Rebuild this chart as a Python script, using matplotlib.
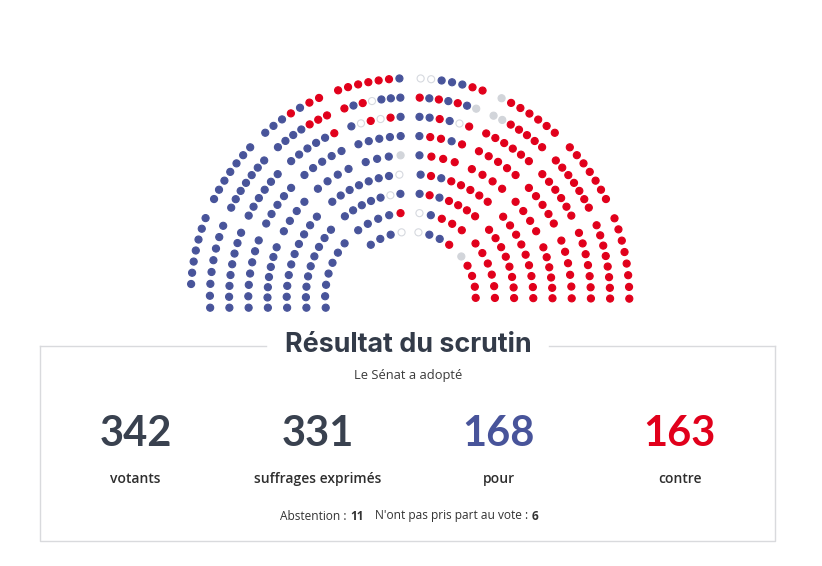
import numpy as np
import matplotlib
matplotlib.use("Agg")
import matplotlib.pyplot as plt

# seat map of the vote, row by row (outer row first), blocks separated by "|"
# p = pour, c = contre, a = abstention, n = n'a pas pris part au vote
ROWS = [
    "ppppppp|ppppppp|pppcpcc|ccccccp|aapppcc|ncccccc|ccccccc|cccccccc",
    "pppppppp|ppppppp|ppppccc|cpcappp|cpcpcpn|nnccccc|ccccccc|cccccccc",
    "pppppppp|pppppp|pppppc|pacacp|ppcpac|cccccc|cccccc|ccccccc",
    "ppppppp|ppppp|ppppp|ppppp|pccpc|ccccc|ccccc|cccccc",
    "ppppppp|pppp|pppp|pppn|pccc|cccc|cccc|cccccc",
    "pppppppppp|pppppppa|pcpccccc|ccccccccc",
    "ppppppppp|pppppap|pcpcccc|cccccccc",
    "ppppppp|ppppc|apccc|cccccc",
    "|pppa|appc|ncccc",
]
VOTE_CODES = ["p", "c", "a", "n"]
COLUMN_LABELS = ["votants", "suffrages exprimés", "pour", "contre"]
TITLE = "Résultat du scrutin"
SUBTITLE = "Le Sénat a adopté"

counts = {k: sum(r.count(k) for r in ROWS) for k in VOTE_CODES}
n_seats = sum(counts.values())
votants = n_seats - counts["n"]
exprimes = counts["p"] + counts["c"]
column_values = [votants, exprimes, counts["p"], counts["c"]]

BLUE = "#48549a"
RED = "#e1001b"
GREY = "#d2d5da"
DARK = "#39414f"
FACE = {"p": BLUE, "c": RED, "a": "white", "n": GREY}
EDGE = {"p": BLUE, "c": RED, "a": "#d6d9df", "n": GREY}

# hemicycle geometry (pixels)
CX, CY = 410.0, 297.5
R_OUT, R_STEP = 219.3, 19.2
OUTER_EDGES = [(None, 22.7), (25.3, 44.6), (47.3, 66.9), (69.5, 88.6),
               (91.4, 110.7), (113.3, 132.7), (135.4, 154.7), (157.3, None)]
INNER_EDGES = [(None, 43.5), (48.5, 87.5), (92.5, 131.5), (136.5, None)]
LEFT_FOOT = [-13.5] + [10.2] * 8   # y offset of lowest left seat
RIGHT_END = 180.3


def seat_angles(lo, hi, n, r, foot):
    if n == 0:
        return []
    if lo is None:
        first = np.degrees(np.arcsin(-foot / r))
        step = (hi - first) / (n - 0.5)
        return [first + step * i for i in range(n)]
    if hi is None:
        step = (RIGHT_END - lo) / (n - 0.5)
        return [lo + step * (i + 0.5) for i in range(n)]
    step = (hi - lo) / n
    return [lo + step * (i + 0.5) for i in range(n)]


xs, ys, codes = [], [], []
for k, row in enumerate(ROWS):
    r = R_OUT - R_STEP * k
    blocks = row.split("|")
    edges = OUTER_EDGES if len(blocks) == 8 else INNER_EDGES
    for (lo, hi), block in zip(edges, blocks):
        for th, code in zip(seat_angles(lo, hi, len(block), r, LEFT_FOOT[k]), block):
            t = np.radians(th)
            xs.append(CX - r * np.cos(t))
            ys.append(CY - r * np.sin(t))
            codes.append(code)

fig = plt.figure(figsize=(8.22, 5.66), dpi=100)
ax = fig.add_axes([0, 0, 1, 1])
ax.set_xlim(0, 822)
ax.set_ylim(566, 0)
ax.axis("off")

ax.scatter(xs, ys, s=26, c=[FACE[c] for c in codes],
           edgecolors=[EDGE[c] for c in codes], linewidths=0.8, zorder=3)

# frame with the title breaking the top line
line_kw = dict(color="#d9dadd", lw=1.0)
ax.plot([40, 266], [345.5, 345.5], **line_kw)
ax.plot([549, 775], [345.5, 345.5], **line_kw)
ax.plot([40, 40, 775, 775], [345.5, 541, 541, 345.5], **line_kw)

ax.text(408, 352.5, TITLE, ha="center", va="baseline", fontsize=19.4,
        family="Inter", weight="bold", color="#333b49")
ax.text(408.5, 378.5, SUBTITLE, ha="center", va="baseline", fontsize=9.3,
        family="Open Sans", color="#3a3a3a")

col_x = [135.5, 317.5, 498.5, 679.5]
num_colors = [DARK, DARK, BLUE, RED]
for x, v, lab, col in zip(col_x, column_values, COLUMN_LABELS, num_colors):
    ax.text(x, 446.5, str(v), ha="center", va="baseline", fontsize=30,
            family="Lato", weight="bold", color=col)
    ax.text(x, 483, lab, ha="center", va="baseline", fontsize=10,
            family="Open Sans", weight="semibold", color="#2e2e2e")

# footer line made of regular / bold runs
runs = [("Abstention :", "normal", 3.5), (str(counts["a"]), "bold", 11),
        ("N'ont pas pris part au vote :", "normal", 3.5), (str(counts["n"]), "bold", 0)]
renderer = fig.canvas.get_renderer()
placed, cur = [], 0.0
for s, w, gap in runs:
    t = ax.text(cur, 519.5, s, ha="left", va="baseline", fontsize=8.6,
                family="Open Sans", weight=w, color="#333333")
    width = t.get_window_extent(renderer).width
    placed.append((t, cur))
    cur += width + gap
shift = 409 - cur / 2
for t, x0 in placed:
    t.set_x(x0 + shift)

fig.savefig("out.png", dpi=100)
